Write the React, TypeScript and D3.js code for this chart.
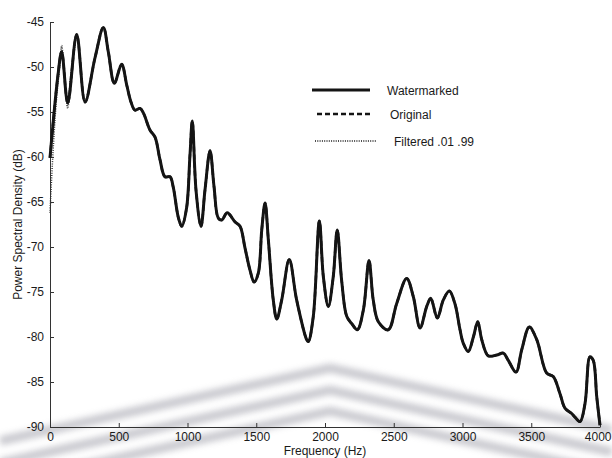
import React, { useEffect, useRef } from "react";
import * as d3 from "d3";

// watermarked spectrum (Hz, dB)
const freqs = [
  0, 58, 85, 129, 194, 255, 327, 388, 424, 468, 521, 558, 589, 618, 655, 679,
  727, 764, 800, 836, 873, 897, 933, 958, 993, 1018, 1035, 1062, 1098, 1127,
  1164, 1193, 1224, 1249, 1289, 1345, 1382, 1418, 1455, 1484, 1515, 1540, 1564,
  1588, 1624, 1649, 1685, 1740, 1794, 1867, 1879, 1915, 1959, 1988, 2024, 2060,
  2089, 2121, 2158, 2194, 2235, 2279, 2320, 2351, 2388, 2460, 2521, 2594, 2642,
  2691, 2740, 2769, 2817, 2860, 2904, 2945, 2982, 3006, 3042, 3079, 3111, 3140,
  3188, 3249, 3297, 3333, 3389, 3431, 3486, 3540, 3612, 3660, 3709, 3745, 3794,
  3818, 3855, 3891, 3927, 3951, 3976, 4000,
];
const watermarked = [
  -60.1, -50.9, -48.3, -54.0, -46.4, -53.9, -49.0, -45.6, -48.3, -51.8, -49.7,
  -52.0, -53.9, -54.8, -54.6, -55.1, -57.0, -57.8, -60.3, -62.2, -62.2, -63.4,
  -66.7, -67.7, -65.7, -59.8, -56.0, -63.7, -67.7, -63.7, -59.3, -63.3, -66.8,
  -67.0, -66.2, -67.2, -67.7, -70.1, -72.6, -73.9, -72.9, -68.1, -65.1, -69.2,
  -75.9, -78.0, -75.9, -71.4, -75.9, -80.3, -80.5, -77.7, -67.1, -73.3, -76.6,
  -73.3, -68.1, -73.7, -77.7, -78.5, -79.2, -77.0, -71.5, -75.9, -78.3, -79.2,
  -76.3, -73.5, -75.5, -79.0, -76.6, -75.7, -77.9, -75.9, -74.9, -76.3, -79.2,
  -80.7, -81.6, -80.0, -78.3, -80.3, -82.1, -82.0, -81.8, -82.6, -83.9, -81.4,
  -78.9, -80.3, -84.0, -84.4, -86.3, -87.9, -88.5, -88.9, -89.4, -87.4, -82.2,
  -82.6, -86.6, -89.8,
];
// original lies under the watermarked trace everywhere
const original = watermarked;
// filtered only separates from the others below ~200 Hz
const filteredFreqs = [0, 20, 45, 70, 85, 105, 129, 150, 194];
const filtered = [-66.2, -60.0, -54.0, -50.0, -47.6, -51.0, -54.6, -51.0, -46.4];

const yTicks = [-90, -85, -80, -75, -70, -65, -60, -55, -50, -45];
const xTicks = [0, 500, 1000, 1500, 2000, 2500, 3000, 3500, 4000];

const legendItems = [
  { label: "Watermarked", dash: null, width: 3 },
  { label: "Original", dash: "5,3", width: 2.5 },
  { label: "Filtered .01 .99", dash: "1,1.3", width: 1.4 },
];

const W = 612, H = 458;
const left = 50, right = 600, top = 22, bottom = 427;

export default function App() {
  const xAxisRef = useRef<SVGGElement>(null);
  const yAxisRef = useRef<SVGGElement>(null);

  const x = d3.scaleLinear().domain([0, 4000]).range([left, right]);
  const y = d3.scaleLinear().domain([-90, -45]).range([bottom, top]);
  const fmt = (d: d3.NumberValue) => String(d);

  useEffect(() => {
    const xa = d3.axisBottom(x).tickValues(xTicks).tickFormat(fmt)
      .tickSizeInner(-4).tickSizeOuter(0).tickPadding(5);
    const ya = d3.axisLeft(y).tickValues(yTicks).tickFormat(fmt)
      .tickSizeInner(-4).tickSizeOuter(0).tickPadding(6);
    const gx = d3.select(xAxisRef.current!);
    gx.call(xa as any);
    const gy = d3.select(yAxisRef.current!);
    gy.call(ya as any);
    [gx, gy].forEach((g) => {
      g.selectAll("text")
        .attr("fill", "#1a1a1a")
        .style("font-family", "'Liberation Sans', Arial, sans-serif")
        .style("font-size", "12px");
      g.selectAll("line, path").attr("stroke", "#333");
    });
    // last label sits against the right edge, as in the scan
    gx.selectAll<SVGTextElement, number>("text")
      .filter((d) => d === 4000)
      .attr("text-anchor", "end")
      .attr("dx", "11");
  }, []);

  const line = d3
    .line<number>()
    .x((_, i) => x(freqs[i]))
    .y((d) => y(d))
    .curve(d3.curveCatmullRom.alpha(0.5));

  const filtLine = d3
    .line<number>()
    .x((_, i) => x(filteredFreqs[i]))
    .y((d) => y(d))
    .curve(d3.curveCatmullRom.alpha(0.5));

  const band = (apex: number) =>
    `M0,${apex + 73} L330,${apex} L612,${apex + 62}`;

  return (
    <svg width={W} height={H} style={{ position: "absolute", left: 0, top: 0, background: "#fff" }}
      fontFamily="'Liberation Sans', Arial, sans-serif">
      <defs>
        <filter id="blur" x="-10%" y="-50%" width="120%" height="200%">
          <feGaussianBlur stdDeviation="3" />
        </filter>
      </defs>
      {/* faint scan watermark behind the plot */}
      <g filter="url(#blur)" fill="none" stroke="#b8b8c0" strokeWidth={9} opacity={0.75}>
        <path d={band(368)} />
        <path d={band(390)} />
        <path d={band(411)} />
      </g>

      <g ref={xAxisRef} transform={`translate(0,${bottom})`} />
      <g ref={yAxisRef} transform={`translate(${left},0)`} />

      <path d={filtLine(filtered)!} fill="none" stroke="#333" strokeWidth={1.5} strokeDasharray="1,1.3" />
      <path d={line(original)!} fill="none" stroke="#222" strokeWidth={2.5} strokeDasharray="5,3" />
      <path d={line(watermarked)!} fill="none" stroke="#141414" strokeWidth={3} strokeLinejoin="round" />

      <g fontSize={12} fill="#1a1a1a">
        {legendItems.map((it, i) => {
          const ly = [90, 114, 141][i];
          const x0 = [312, 317, 315][i];
          const x1 = [370, 372, 377][i];
          const tx = [387, 390, 394][i];
          return (
            <g key={it.label}>
              <line x1={x0} x2={x1} y1={ly} y2={ly} stroke="#141414" strokeWidth={it.width}
                strokeDasharray={it.dash ?? undefined} />
              <text x={tx} y={ly + 4.5}>{it.label}</text>
            </g>
          );
        })}
      </g>

      <text x={(left + right) / 2} y={455} textAnchor="middle" fontSize={12} fill="#1a1a1a">
        Frequency (Hz)
      </text>
      <text transform={`translate(22,${(top + bottom) / 2}) rotate(-90)`} textAnchor="middle" fontSize={12} fill="#1a1a1a">
        Power Spectral Density (dB)
      </text>
    </svg>
  );
}
